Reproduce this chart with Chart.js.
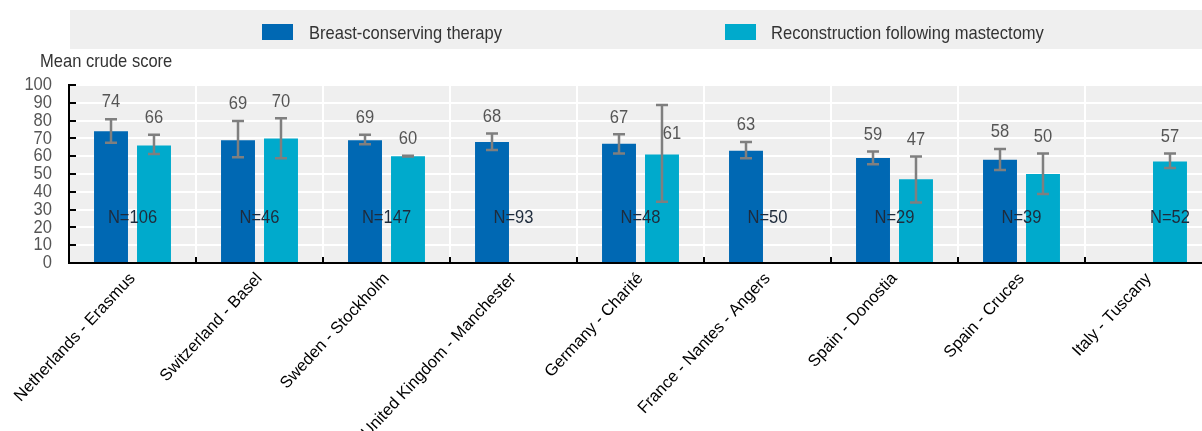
<!DOCTYPE html>
<html>
<head>
<meta charset="utf-8">
<script src="https://cdn.jsdelivr.net/npm/chart.js@4"></script>
<style>
  html, body { margin: 0; padding: 0; background: #fff; overflow: hidden; }
  #wrap { position: absolute; left: 0; top: 0; width: 1212px; height: 431px; }
</style>
</head>
<body>
<div id="wrap"><canvas id="c" width="1212" height="431"></canvas></div>
<script>
// ---- data ----
const categories = ['Netherlands - Erasmus', 'Switzerland - Basel', 'Sweden - Stockholm', 'United Kingdom - Manchester', 'Germany - Charité', 'France - Nantes - Angers', 'Spain - Donostia', 'Spain - Cruces', 'Italy - Tuscany'];
const seriesNames = ['Breast-conserving therapy', 'Reconstruction following mastectomy'];
const bctMean = [74, 69, 69, 68, 67, 63, 59, 58, null];
const bctLow  = [67.6, 59.4, 66.7, 63.5, 61.5, 58.9, 55.5, 52.3, null];
const bctHigh = [80.8, 79.8, 72.0, 72.7, 72.3, 68.0, 62.6, 64.1, null];
const recMean = [66, 70, 60, null, 61, null, 47, 50, 57];
const recLow  = [61.3, 58.9, 59.9, null, 34.4, null, 34.0, 38.7, 53.4];
const recHigh = [72.0, 81.3, 60.2, null, 88.8, null, 59.8, 61.5, 61.5];
const sampleN = [106, 46, 147, 93, 48, 50, 29, 39, 52];
const yTicks = [0, 10, 20, 30, 40, 50, 60, 70, 80, 90, 100];
const nLabelLevel = 25.4;

const DARK = '#0068B3';
const LIGHT = '#00AACC';
const REG = '"Liberation Sans", Arial, sans-serif';
const NARROW_FONT = '19px ' + REG;
const SQUEEZE = 0.87;

function narrowText(ctx, txt, x, y, align, baseline, color) {
  ctx.save();
  ctx.font = NARROW_FONT;
  ctx.fillStyle = color;
  ctx.textAlign = align;
  ctx.textBaseline = baseline;
  ctx.translate(x, y);
  ctx.scale(SQUEEZE, 1);
  ctx.fillText(txt, 0, 0);
  ctx.restore();
}

const lows = [bctLow, recLow];
const highs = [bctHigh, recHigh];

const decor = {
  id: 'decor',
  beforeDraw(chart) {
    const { ctx, chartArea: a } = chart;
    ctx.save();
    ctx.fillStyle = '#EFEFEF';
    ctx.fillRect(a.left, a.top, a.right - a.left, a.bottom - a.top);
    // legend box
    ctx.fillRect(70, 10, chart.width - 70, 39);
    const sw = [[262, DARK, seriesNames[0], 309], [725, LIGHT, seriesNames[1], 771]];
    sw.forEach(([x, col, txt, tx]) => {
      ctx.fillStyle = col;
      ctx.fillRect(x, 24, 31, 16);
      narrowText(ctx, txt, tx, 39, 'left', 'alphabetic', '#333');
    });
    // axis title
    narrowText(ctx, 'Mean crude score', 40, 67, 'left', 'alphabetic', '#333');
    ctx.restore();
  },
  afterDatasetsDraw(chart) {
    const { ctx, chartArea: a } = chart;
    const y = chart.scales.y, x = chart.scales.x;
    ctx.save();
    // error bars
    ctx.strokeStyle = '#7F7F7F';
    ctx.lineWidth = 2.5;
    for (let d = 0; d < 2; d++) {
      const meta = chart.getDatasetMeta(d);
      meta.data.forEach((bar, i) => {
        const v = chart.data.datasets[d].data[i];
        if (v == null) return;
        const yl = y.getPixelForValue(lows[d][i]);
        const yh = y.getPixelForValue(highs[d][i]);
        ctx.beginPath();
        ctx.moveTo(bar.x, yl); ctx.lineTo(bar.x, yh);
        ctx.moveTo(bar.x - 6, yl); ctx.lineTo(bar.x + 6, yl);
        ctx.moveTo(bar.x - 6, yh); ctx.lineTo(bar.x + 6, yh);
        ctx.stroke();
      });
    }
    // value labels
    for (let d = 0; d < 2; d++) {
      const meta = chart.getDatasetMeta(d);
      meta.data.forEach((bar, i) => {
        const v = chart.data.datasets[d].data[i];
        if (v == null) return;
        const hi = highs[d][i];
        if (hi - v > 20) {
          narrowText(ctx, String(v), bar.x + 10, y.getPixelForValue(v) - 21, 'center', 'middle', '#555');
        } else {
          narrowText(ctx, String(v), bar.x, y.getPixelForValue(hi) - 17, 'center', 'middle', '#555');
        }
      });
    }
    // N labels
    sampleN.forEach((n, i) => {
      let cx = x.getPixelForValue(i);
      if (bctMean[i] == null) cx = chart.getDatasetMeta(1).data[i].x;
      narrowText(ctx, 'N=' + n, cx, y.getPixelForValue(nLabelLevel), 'center', 'middle', '#1E2B3C');
    });
    // y tick labels
    yTicks.forEach(t => {
      narrowText(ctx, String(t), a.left - 17, y.getPixelForValue(t), 'right', 'middle', '#555');
    });
    // inner ticks
    ctx.strokeStyle = '#000';
    ctx.lineWidth = 2;
    ctx.beginPath();
    const step = (a.right - a.left) / categories.length;
    for (let i = 1; i < categories.length; i++) {
      const px = Math.round(a.left + step * i);
      ctx.moveTo(px, a.bottom); ctx.lineTo(px, a.bottom - 6);
    }
    yTicks.forEach(t => {
      const py = Math.round(y.getPixelForValue(t));
      ctx.moveTo(a.left, py); ctx.lineTo(a.left + 7, py);
    });
    ctx.stroke();
    ctx.restore();
  }
};

new Chart(document.getElementById('c'), {
  type: 'bar',
  data: {
    labels: categories,
    datasets: [
      { label: seriesNames[0], data: bctMean, backgroundColor: DARK, categoryPercentage: 0.677, barPercentage: 0.79 },
      { label: seriesNames[1], data: recMean, backgroundColor: LIGHT, categoryPercentage: 0.677, barPercentage: 0.79 }
    ]
  },
  options: {
    responsive: false,
    animation: false,
    events: [],
    layout: { padding: { top: 85, left: 0, right: 0, bottom: 0 } },
    plugins: { legend: { display: false }, tooltip: { enabled: false } },
    scales: {
      x: {
        offset: true,
        grid: { color: '#FFFFFF', lineWidth: 2, offset: true, drawTicks: false },
        border: { color: '#000', width: 2 },
        ticks: { color: '#000', font: { family: REG, size: 16.5 }, minRotation: 47, maxRotation: 47, padding: 6, labelOffset: 0, autoSkip: false },
        afterFit(s) { s.height = 168; }
      },
      y: {
        min: 0, max: 100,
        afterBuildTicks(s) { s.ticks = yTicks.map(v => ({ value: v })); },
        grid: { color: '#FFFFFF', lineWidth: 2, drawTicks: false },
        border: { color: '#000', width: 2 },
        ticks: { display: false },
        afterFit(s) { s.width = 69; }
      }
    }
  },
  plugins: [decor]
});
</script>
</body>
</html>
